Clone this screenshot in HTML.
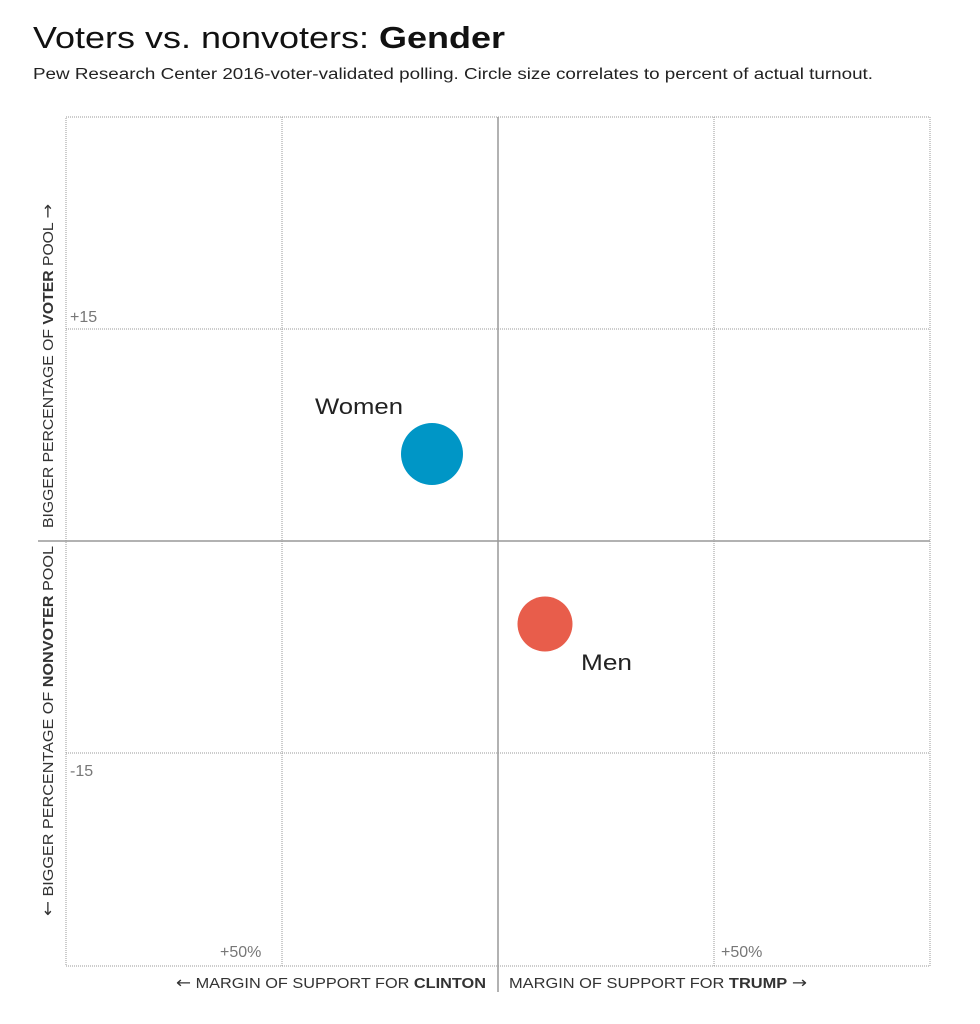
<!DOCTYPE html>
<html><head><style>
body{margin:0;background:#fff;width:980px;height:1019px;overflow:hidden;font-family:"Liberation Sans",sans-serif}
</style></head><body>
<svg width="980" height="1019" xmlns="http://www.w3.org/2000/svg" font-family="Liberation Sans, sans-serif">
<text x="33" y="48" font-size="31" font-weight="bold" fill="#111" textLength="472" lengthAdjust="spacingAndGlyphs"><tspan font-weight="normal">Voters vs. nonvoters: </tspan>Gender</text>
<text x="33" y="79" font-size="15.5" fill="#222" textLength="840" lengthAdjust="spacingAndGlyphs">Pew Research Center 2016-voter-validated polling. Circle size correlates to percent of actual turnout.</text>
<g stroke="#999" stroke-width="1" stroke-dasharray="1,1" fill="none">
<rect x="66" y="117" width="864" height="849"/>
<line x1="282" y1="117" x2="282" y2="966"/>
<line x1="714" y1="117" x2="714" y2="966"/>
<line x1="66" y1="329" x2="930" y2="329"/>
<line x1="66" y1="753" x2="930" y2="753"/>
</g>
<line x1="498" y1="117" x2="498" y2="992" stroke="#999" stroke-width="1.5"/>
<line x1="38" y1="541" x2="930" y2="541" stroke="#999" stroke-width="1.5"/>
<g font-size="16" fill="#777">
<text x="70" y="322">+15</text>
<text x="70" y="776">-15</text>
<text x="220" y="957">+50%</text>
<text x="721" y="957">+50%</text>
</g>
<g font-size="14.5" fill="#333">
<text x="176" y="988" textLength="310" lengthAdjust="spacingAndGlyphs"><tspan font-family="DejaVu Sans" font-size="16">←</tspan> MARGIN OF SUPPORT FOR <tspan font-weight="bold">CLINTON</tspan></text>
<text x="509" y="988" textLength="298" lengthAdjust="spacingAndGlyphs">MARGIN OF SUPPORT FOR <tspan font-weight="bold">TRUMP</tspan> <tspan font-family="DejaVu Sans" font-size="16">→</tspan></text>
<text transform="translate(53,528) rotate(-90)" textLength="324" lengthAdjust="spacingAndGlyphs">BIGGER PERCENTAGE OF <tspan font-weight="bold">VOTER</tspan> POOL <tspan font-family="DejaVu Sans" font-size="16">→</tspan></text>
<text transform="translate(53,916) rotate(-90)" textLength="370" lengthAdjust="spacingAndGlyphs"><tspan font-family="DejaVu Sans" font-size="16">←</tspan> BIGGER PERCENTAGE OF <tspan font-weight="bold">NONVOTER</tspan> POOL</text>
</g>
<circle cx="432" cy="454" r="31" fill="#0096c6"/>
<circle cx="545" cy="624" r="27.5" fill="#e85d4b"/>
<text x="315" y="414" font-size="22" fill="#222" textLength="88" lengthAdjust="spacingAndGlyphs">Women</text>
<text x="581" y="670" font-size="22" fill="#222" textLength="51" lengthAdjust="spacingAndGlyphs">Men</text>
</svg>
</body></html>
